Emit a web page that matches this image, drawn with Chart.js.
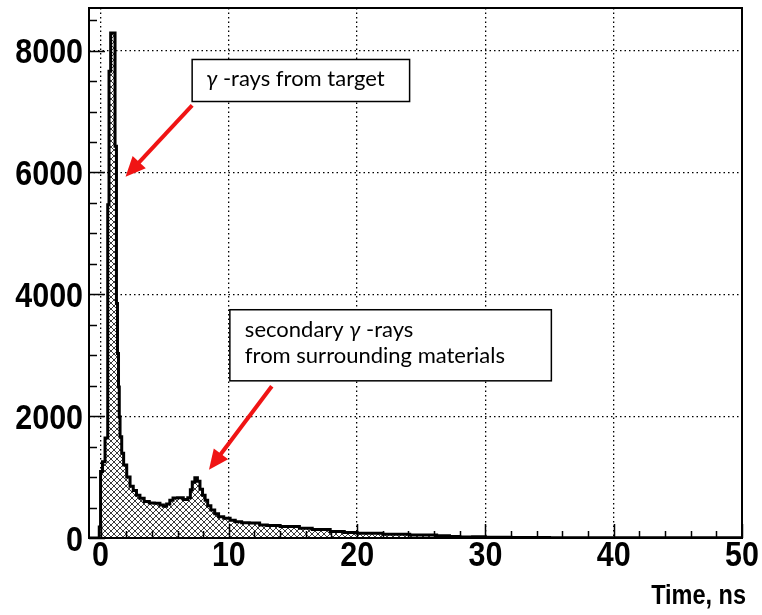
<!DOCTYPE html>
<html>
<head>
<meta charset="utf-8">
<script src="https://cdn.jsdelivr.net/npm/chart.js@4.4.0/dist/chart.umd.min.js"></script>
<style>
  html, body { margin: 0; padding: 0; background: #fff; }
  #wrap { position: relative; width: 762px; height: 615px; }
</style>
</head>
<body>
<div id="wrap"><canvas id="chart" width="762" height="615"></canvas></div>
<script>
// histogram bins: left edges (ns) + last right edge, counts per bin
const binEdges = [
  -0.9, -0.1, 0.0, 0.15, 0.35, 0.56, 0.66, 0.79, 1.13, 1.24, 1.32, 1.40, 1.46, 1.52, 1.65, 1.80,
  2.04, 2.30, 2.55, 2.80, 3.07, 3.40, 3.80, 4.20, 4.63, 4.90, 5.15, 5.40, 5.65, 6.00, 6.45,
  6.80, 7.00, 7.15, 7.35, 7.55, 7.75, 7.95, 8.15, 8.35, 8.60, 8.90, 9.20, 9.60, 10.1, 10.5,
  11.0, 11.6, 12.4, 13.0, 14.0, 15.5, 16.5, 17.9, 19.0, 20.0, 22.0, 24.1, 26.2, 27.2, 28.0,
  29.0, 30.0, 32.0, 35.0, 40.0, 45.0, 50.0
];
const counts = [
  0, 180, 1090, 1250, 1640, 5470, 7660, 8290, 6430, 3850, 3030, 2480, 1990, 1660, 1390,
  1200, 1000, 850, 780, 700, 652, 600, 575, 570, 540, 520, 560, 620, 655, 660,
  630, 660, 790, 920, 990, 930, 800, 700, 620, 530, 460, 400, 350, 325, 290,
  265, 250, 245, 215, 205, 190, 160, 140, 105, 90, 77, 61, 48, 36, 25,
  18, 22, 12, 8, 5, 4, 3
];
const xTicks = [0, 10, 20, 30, 40, 50];
const yTicks = [0, 2000, 4000, 6000, 8000];
const xRange = [-0.9, 50];
const yRange = [0, 8700];
const xTitle = 'Time, ns';

// annotation texts: [segment, italic]
const note1 = [[['γ', true], [' -rays from target', false]]];
const note2 = [[['secondary ', false], ['γ', true], [' -rays', false]],
               [['from surrounding materials', false]]];

const axisFont = "'Liberation Sans', Arial, sans-serif";
const noteFont = "Lato, 'Noto Sans', sans-serif";

// cross hatch fill
const hatch = (() => {
  const c = document.createElement('canvas');
  c.width = 6; c.height = 6;
  const g = c.getContext('2d');
  g.fillStyle = '#fff';
  g.fillRect(0, 0, 6, 6);
  g.strokeStyle = '#3a3a3a';
  g.lineWidth = 1;
  g.beginPath();
  g.moveTo(-1, -1); g.lineTo(7, 7);
  g.moveTo(7, -1); g.lineTo(-1, 7);
  g.stroke();
  return g.createPattern(c, 'repeat');
})();

// each count holds from its left edge up to the next edge
const points = counts.map((v, i) => ({ x: binEdges[i], y: v }));
points.push({ x: binEdges[binEdges.length - 1], y: counts[counts.length - 1] });

// condensed bold text like the ROOT axis font
function narrowText(ctx, text, x, y, size, align) {
  ctx.save();
  ctx.font = 'bold ' + size + 'px ' + axisFont;
  ctx.textAlign = align;
  ctx.textBaseline = 'alphabetic';
  ctx.translate(x, y);
  ctx.scale(0.87, 1);
  ctx.fillText(text, 0, 0);
  ctx.restore();
}

function drawArrow(ctx, x1, y1, x2, y2) {
  const a = Math.atan2(y2 - y1, x2 - x1), L = 20, W = 9;
  const bx = x2 - L * Math.cos(a), by = y2 - L * Math.sin(a);
  ctx.strokeStyle = ctx.fillStyle = '#f01414';
  ctx.lineWidth = 4;
  ctx.beginPath();
  ctx.moveTo(x1, y1);
  ctx.lineTo(bx + 3 * Math.cos(a), by + 3 * Math.sin(a));
  ctx.stroke();
  ctx.beginPath();
  ctx.moveTo(x2, y2);
  ctx.lineTo(bx + W * Math.sin(a), by - W * Math.cos(a));
  ctx.lineTo(bx - W * Math.sin(a), by + W * Math.cos(a));
  ctx.closePath();
  ctx.fill();
}

function drawNote(ctx, sx, sy, box, lines, indent, first, lineH) {
  const x0 = sx.getPixelForValue(box[0]), y0 = sy.getPixelForValue(box[1]);
  const x1 = sx.getPixelForValue(box[2]), y1 = sy.getPixelForValue(box[3]);
  ctx.fillStyle = '#fff';
  ctx.fillRect(x0, y0, x1 - x0, y1 - y0);
  ctx.strokeStyle = '#000';
  ctx.lineWidth = 1.5;
  ctx.strokeRect(x0, y0, x1 - x0, y1 - y0);
  ctx.fillStyle = '#000';
  ctx.textAlign = 'left';
  ctx.textBaseline = 'alphabetic';
  lines.forEach((segs, i) => {
    let x = x0 + indent;
    const y = y0 + first + lineH * i;
    segs.forEach(([t, it]) => {
      ctx.font = (it ? 'italic ' : '') + '22px ' + noteFont;
      ctx.fillText(t, x, y);
      x += ctx.measureText(t).width;
    });
  });
}

const decor = {
  id: 'decor',
  afterDatasetsDraw(chart) {
    const { ctx, chartArea: a, scales: { x, y } } = chart;
    ctx.save();
    ctx.strokeStyle = '#000';
    ctx.lineWidth = 1.5;
    // inward ticks on x
    for (let v = 0; v <= 50; v += 2) {
      const px = Math.round(x.getPixelForValue(v)) + 0.5;
      const len = v % 10 === 0 ? 14 : 7;
      ctx.beginPath(); ctx.moveTo(px, a.bottom); ctx.lineTo(px, a.bottom - len); ctx.stroke();
    }
    // inward ticks on y
    for (let v = 0; v <= 8500; v += 500) {
      const py = Math.round(y.getPixelForValue(v)) + 0.5;
      const len = v % 2000 === 0 ? 16 : 8;
      ctx.beginPath(); ctx.moveTo(a.left, py); ctx.lineTo(a.left + len, py); ctx.stroke();
    }
    // frame
    ctx.lineWidth = 2;
    ctx.strokeRect(a.left, a.top, a.right - a.left, a.bottom - a.top);
    // tick labels and axis title
    ctx.fillStyle = '#000';
    xTicks.forEach(v => narrowText(ctx, String(v), x.getPixelForValue(v), a.bottom + 28, 35, 'center'));
    yTicks.forEach(v => narrowText(ctx, String(v), a.left - 6, y.getPixelForValue(v) + 12.5, 35, 'right'));
    narrowText(ctx, xTitle, a.right + 4, a.bottom + 66, 27, 'right');
    // annotations
    drawNote(ctx, x, y, [7.14, 7855, 24.09, 7165], note1, 14, 27, 0);
    drawArrow(ctx, x.getPixelForValue(7.14), y.getPixelForValue(7100),
              x.getPixelForValue(1.95), y.getPixelForValue(5930));
    drawNote(ctx, x, y, [10.08, 3747, 35.14, 2580], note2, 15, 27.5, 26);
    drawArrow(ctx, x.getPixelForValue(13.35), y.getPixelForValue(2490),
              x.getPixelForValue(8.45), y.getPixelForValue(1120));
    ctx.restore();
  }
};

new Chart(document.getElementById('chart'), {
  type: 'line',
  data: {
    datasets: [{
      data: points,
      stepped: 'before',
      borderColor: '#000',
      borderWidth: 3,
      backgroundColor: hatch,
      fill: 'origin',
      pointRadius: 0
    }]
  },
  options: {
    responsive: false,
    animation: false,
    layout: { padding: { left: 0, right: 20, top: 8, bottom: 0 } },
    plugins: { legend: { display: false }, tooltip: { enabled: false } },
    scales: {
      x: {
        type: 'linear',
        min: xRange[0],
        max: xRange[1],
        afterBuildTicks: s => { s.ticks = xTicks.map(v => ({ value: v })); },
        afterFit: s => { s.height = 77; },
        grid: { color: '#000', lineWidth: 1.3, drawTicks: false },
        border: { display: false, dash: [1.5, 3] },
        ticks: { display: false }
      },
      y: {
        min: yRange[0],
        max: yRange[1],
        afterBuildTicks: s => { s.ticks = yTicks.map(v => ({ value: v })); },
        afterFit: s => { s.width = 89; },
        grid: { color: '#000', lineWidth: 1.3, drawTicks: false },
        border: { display: false, dash: [1.5, 3] },
        ticks: { display: false }
      }
    }
  },
  plugins: [decor]
});
</script>
</body>
</html>
